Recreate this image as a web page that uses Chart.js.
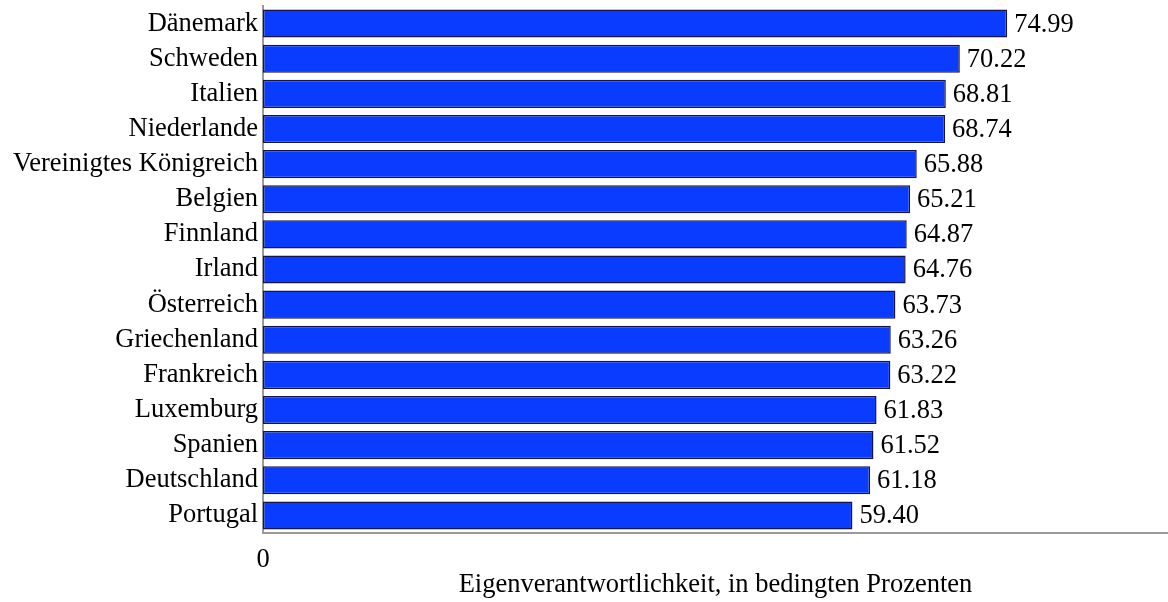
<!DOCTYPE html>
<html>
<head>
<meta charset="utf-8">
<script src="https://cdn.jsdelivr.net/npm/chart.js@4.4.1/dist/chart.umd.min.js"></script>
<style>
html,body{margin:0;padding:0;background:#fff;}
canvas{display:block;}
</style>
</head>
<body>
<canvas id="c" width="1168" height="602"></canvas>
<script>
const categories = ["Dänemark","Schweden","Italien","Niederlande","Vereinigtes Königreich","Belgien","Finnland","Irland","Österreich","Griechenland","Frankreich","Luxemburg","Spanien","Deutschland","Portugal"];
const values = [74.99,70.22,68.81,68.74,65.88,65.21,64.87,64.76,63.73,63.26,63.22,61.83,61.52,61.18,59.40];
const xTickLabels = ["0"];
const axisTitle = "Eigenverantwortlichkeit, in bedingten Prozenten";

const FONT = "'Liberation Serif', 'Times New Roman', serif";
const FS = 26.5;

const valueLabels = {
  id: 'valueLabels',
  afterDatasetsDraw(chart) {
    const ctx = chart.ctx;
    const meta = chart.getDatasetMeta(0);
    ctx.save();
    ctx.font = FS + "px " + FONT;
    ctx.fillStyle = "#000";
    ctx.textAlign = "left";
    ctx.textBaseline = "middle";
    meta.data.forEach((bar, i) => {
      ctx.fillText(values[i].toFixed(2), bar.x + 7, bar.y + 1);
    });
    ctx.restore();
  }
};

new Chart(document.getElementById('c'), {
  type: 'bar',
  data: {
    labels: categories,
    datasets: [{
      data: values,
      backgroundColor: '#0a3cff',
      borderColor: '#15154a',
      borderWidth: 1.5,
      borderSkipped: false,
      categoryPercentage: 1.0,
      barPercentage: 0.8
    }]
  },
  options: {
    indexAxis: 'y',
    responsive: false,
    animation: false,
    layout: { padding: { top: 6, right: 0, bottom: 0, left: 0 } },
    plugins: { legend: { display: false }, tooltip: { enabled: false } },
    scales: {
      x: {
        min: 0,
        max: 91.2,
        grid: { display: false, drawTicks: false },
        border: { display: true, color: '#9a9a9a', width: 2 },
        ticks: {
          stepSize: 100,
          color: '#000',
          font: { family: FONT, size: FS },
          padding: 11,
          maxRotation: 0,
          callback: (v) => (v === 0 ? xTickLabels[0] : '')
        },
        title: {
          display: true,
          text: axisTitle,
          color: '#000',
          font: { family: FONT, size: FS },
          padding: { top: 0, bottom: 1 }
        },
        afterFit(scale) {
          scale.height = 69;
          scale.paddingLeft = 0;
          scale.paddingRight = 0;
        }
      },
      y: {
        grid: { display: false, drawTicks: false },
        border: { display: true, color: '#9a9a9a', width: 2 },
        ticks: {
          color: '#000',
          font: { family: FONT, size: FS },
          padding: 5,
          autoSkip: false
        },
        afterFit(scale) {
          scale.width = 263;
          scale.paddingTop = 0;
          scale.paddingBottom = 0;
        }
      }
    }
  },
  plugins: [valueLabels]
});
</script>
</body>
</html>
